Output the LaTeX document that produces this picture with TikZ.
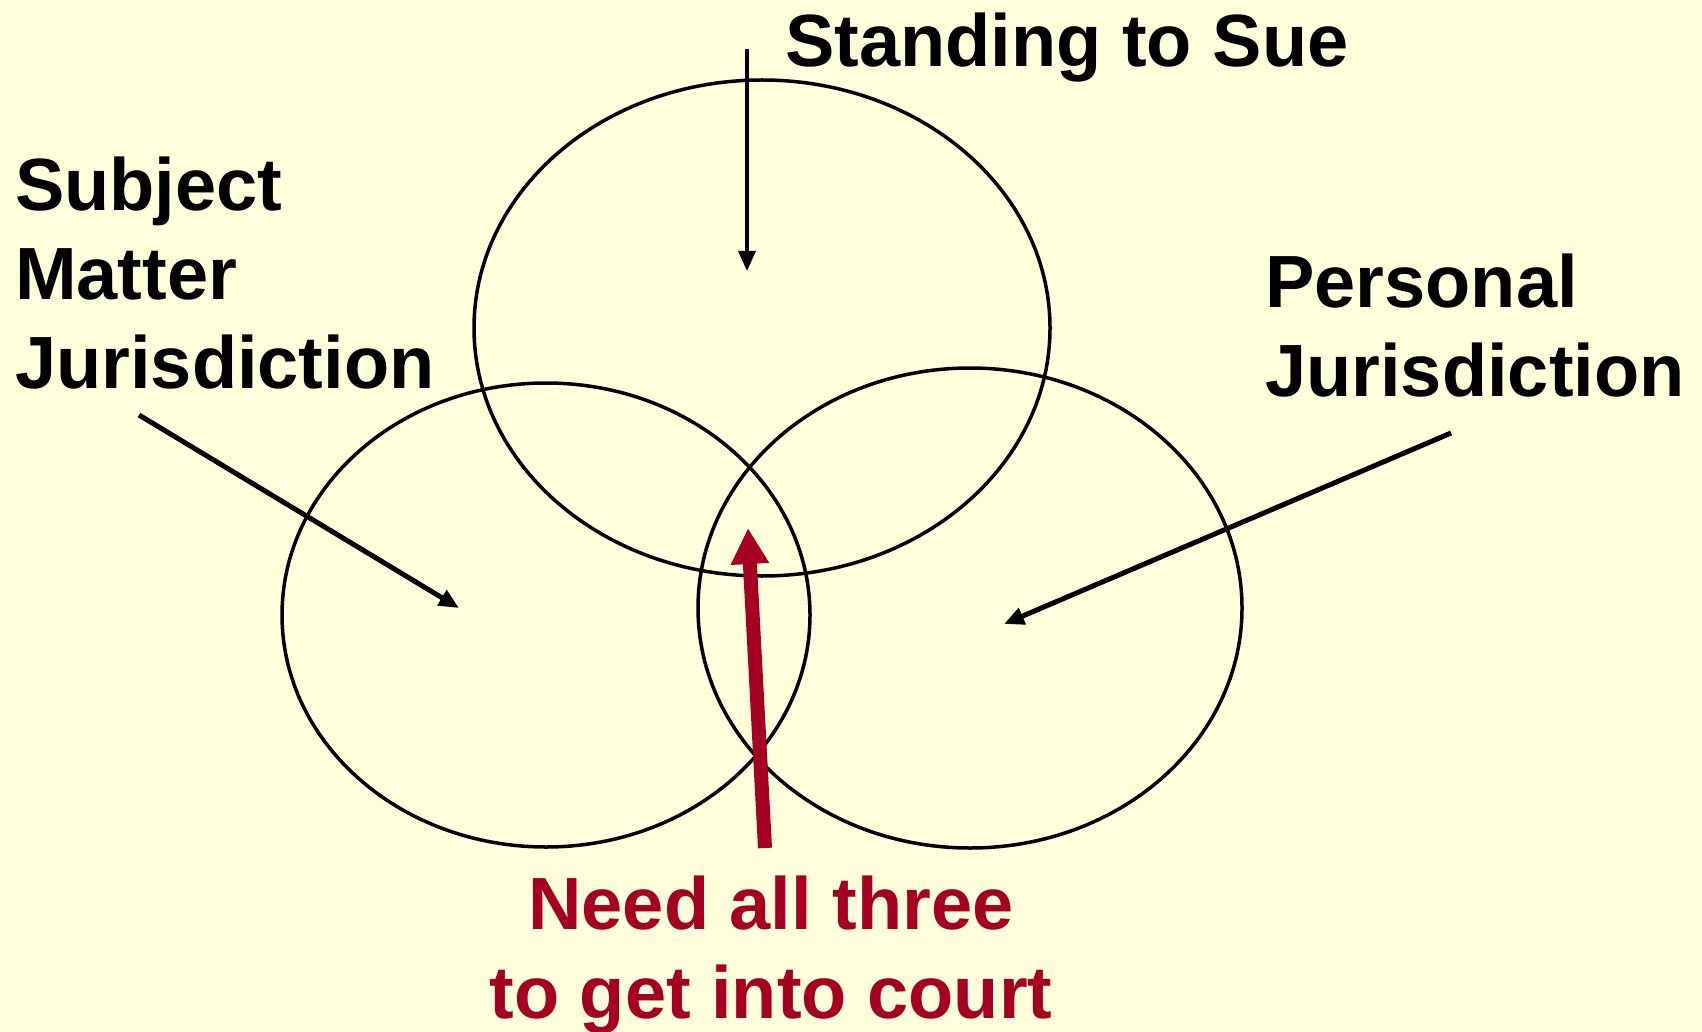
\documentclass[tikz,border=0pt]{standalone}
\usepackage{fontspec}
\setmainfont{Liberation Sans}
\usepackage{tikz}
\usetikzlibrary{arrows.meta,positioning,shapes.geometric}
\usepackage{xcolor}
\definecolor{slidebg}{HTML}{FFFFDB}
\definecolor{courtred}{HTML}{A50021}

\begin{document}
\begin{tikzpicture}[
    x=1pt, y=-1pt,
    ring/.style={
      ellipse, draw, line width=3.5pt, inner sep=0pt, outer sep=0pt
    },
    label/.style={
      inner sep=0pt, anchor=base west, align=left,
      font=\fontsize{74}{89}\selectfont\bfseries
    },
    arr/.style={-{Triangle[length=20pt,width=17pt]}, line width=5pt},
    bigarr/.style={-{Triangle[length=36pt,width=36pt]}, line width=14pt,
      color=courtred}
  ]
  \useasboundingbox[fill=slidebg] (0,0) rectangle (1702,1032);

  \node[ring, minimum width=576pt, minimum height=496pt] (sue) at (762,328) {};
  \node[ring, minimum width=528pt, minimum height=464pt] (smj) at (546,615) {};
  \node[ring, minimum width=544pt, minimum height=480pt] (pj) at (970,608) {};

  \node[label] (suetxt) at (785,67) {Standing to Sue};
  \node[label] (smjtxt) at (15,388) {Subject\\Matter\\Jurisdiction};
  \node[label] (pjtxt) at (1265,396) {Personal\\Jurisdiction};
  \node[label, anchor=base, align=center, text=courtred] (needtxt)
    at (771,1018) {Need all three\\to get into court};

  \coordinate (suefrom) at (747,49);
  \coordinate (sueto) at (747,271);
  \coordinate (smjfrom) at (139,415);
  \coordinate (smjto) at (459,608);
  \coordinate (pjfrom) at (1451,433);
  \coordinate (pjto) at (1004,624);
  \coordinate (needfrom) at (765,848);
  \coordinate (needto) at (748,528);

  \draw[arr, line width=3.5pt] (suefrom) -- (sueto);
  \draw[arr] (smjfrom) -- (smjto);
  \draw[arr] (pjfrom) -- (pjto);
  \draw[bigarr] (needfrom) -- (needto);
\end{tikzpicture}
\end{document}
